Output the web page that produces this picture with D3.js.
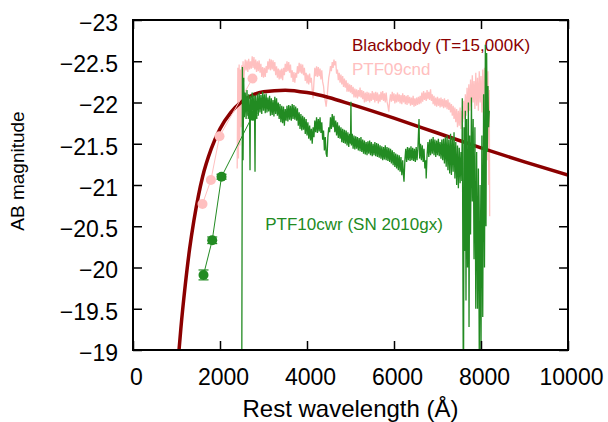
<!DOCTYPE html>
<html>
<head>
<meta charset="utf-8">
<script src="https://cdnjs.cloudflare.com/ajax/libs/d3/7.8.5/d3.min.js"></script>
<style>
  body { margin: 0; background: #fff; }
  text { font-family: "Liberation Sans", Arial, Helvetica, sans-serif; }
</style>
</head>
<body>
<div id="chart"></div>
<script>
// axis ticks
const xTicks = [0, 2000, 4000, 6000, 8000, 10000]
const yTicks = [-23, -22.5, -22, -21.5, -21, -20.5, -20, -19.5, -19]

// blackbody T=15,000K
const bbWave = [1000, 1050, 1100, 1200, 1300, 1400, 1500, 1600, 1800, 2000, 2250, 2500, 2750, 3000, 3500, 4000, 4500, 5000, 6000, 7000, 8000, 9000, 10000]
const bbMag  = [-18.60, -18.95, -19.26, -19.78, -20.22, -20.57, -20.86, -21.10, -21.44, -21.68, -21.88, -22.01, -22.09, -22.13, -22.15, -22.12, -22.06, -21.98, -21.81, -21.63, -21.45, -21.28, -21.12]

// UV photometry
const cndPhotWave = [1598, 1791, 1989, 2747]
const cndPhotMag  = [-20.77, -21.06, -21.59, -22.29]
const cwrPhotWave = [1621, 1821, 2035, 2750]
const cwrPhotMag  = [-19.91, -20.33, -21.10, -21.84]
const cwrPhotErr  = [0.06, 0.04, 0.03, 0.03]

// PTF09cnd spectrum [wavelength, mag]
const cndSpectrum = [
[2395,-21.20],[2410,-22.42],[2425,-21.32],[2440,-22.46],[2455,-21.48],[2470,-22.40],[2485,-21.70],[2500,-22.45],[2515,-22.00],[2530,-22.50],[2545,-22.25],
[2560,-22.38],[2580,-22.52],[2600,-22.39],[2620,-22.51],[2640,-22.37],[2660,-22.53],[2680,-22.40],[2700,-22.50],[2720,-22.41],[2740,-22.56],
[2760,-22.42],[2780,-22.55],[2800,-22.40],[2820,-22.52],[2840,-22.37],[2860,-22.50],[2880,-22.38],[2900,-22.51],[2920,-22.36],[2940,-22.47],
[2960,-22.31],[2980,-22.43],[3000,-22.30],[3020,-22.42],[3040,-22.31],[3060,-22.44],[3080,-22.36],[3100,-22.50],[3120,-22.40],[3140,-22.53],
[3160,-22.39],[3180,-22.52],[3200,-22.40],[3220,-22.51],[3240,-22.38],[3260,-22.49],[3280,-22.33],[3300,-22.44],[3320,-22.30],[3340,-22.41],
[3360,-22.28],[3380,-22.40],[3400,-22.29],[3420,-22.41],[3440,-22.27],[3460,-22.42],[3480,-22.33],[3500,-22.47],[3520,-22.37],[3540,-22.50],
[3560,-22.38],[3580,-22.49],[3600,-22.36],[3620,-22.46],[3640,-22.30],[3660,-22.39],[3680,-22.25],[3700,-22.37],[3720,-22.24],[3740,-22.36],
[3760,-22.30],[3780,-22.44],[3800,-22.35],[3820,-22.48],[3840,-22.36],[3860,-22.47],[3880,-22.35],[3900,-22.46],[3920,-22.33],[3940,-22.42],
[3960,-22.26],[3980,-22.36],[4000,-22.23],[4020,-22.34],[4040,-22.22],[4060,-22.35],[4080,-22.24],[4100,-22.30],[4120,-22.15],[4140,-22.05],
[4160,-22.25],[4180,-22.42],[4200,-22.32],[4220,-22.44],[4240,-22.31],[4260,-22.43],[4280,-22.32],[4300,-22.41],[4320,-22.28],[4340,-22.39],
[4360,-22.25],[4380,-22.20],[4400,-22.08],[4420,-22.02],[4440,-21.95],[4460,-22.05],[4480,-22.18],[4500,-22.30],[4520,-22.36],[4540,-22.44],
[4560,-22.38],[4580,-22.49],[4600,-22.42],[4620,-22.52],[4640,-22.45],[4660,-22.50],[4680,-22.35],[4700,-22.40],[4720,-22.27],[4740,-22.36],
[4760,-22.24],[4780,-22.34],[4800,-22.22],[4820,-22.32],[4840,-22.19],[4860,-22.29],[4880,-22.18],[4900,-22.27],[4920,-22.13],[4940,-22.24],
[4960,-22.13],[4980,-22.22],[5000,-22.12],[5020,-22.21],[5040,-22.10],[5060,-22.19],[5080,-22.06],[5100,-22.17],[5120,-22.06],[5140,-22.16],
[5160,-22.05],[5180,-22.15],[5200,-22.07],[5220,-22.18],[5240,-22.06],[5260,-22.15],[5280,-22.04],[5300,-22.14],[5320,-22.00],[5340,-22.12],
[5360,-22.01],[5380,-22.13],[5400,-22.02],[5420,-22.12],[5440,-22.00],[5460,-22.11],[5480,-22.02],[5500,-22.14],[5520,-22.03],[5540,-22.12],
[5560,-22.00],[5580,-22.13],[5600,-22.02],[5620,-22.12],[5640,-21.99],[5660,-22.10],[5680,-22.01],[5700,-22.13],[5720,-22.03],[5740,-22.14],
[5760,-22.02],[5780,-22.11],[5800,-22.00],[5820,-22.12],[5840,-22.01],[5860,-21.96],[5880,-21.89],[5900,-22.02],[5920,-22.10],[5940,-22.01],
[5960,-22.13],[5980,-22.02],[6000,-22.11],[6020,-21.99],[6040,-22.10],[6060,-22.00],[6080,-22.12],[6100,-22.01],[6120,-22.10],[6140,-21.99],
[6160,-22.09],[6180,-21.98],[6200,-22.11],[6220,-22.00],[6240,-22.09],[6260,-21.98],[6280,-22.08],[6300,-21.97],[6320,-22.09],[6340,-21.99],
[6360,-22.07],[6380,-21.96],[6400,-22.06],[6420,-21.97],[6440,-22.08],[6460,-21.95],[6480,-22.05],[6500,-21.96],[6520,-22.06],[6540,-21.97],
[6560,-22.07],[6580,-21.98],[6600,-22.08],[6620,-21.99],[6640,-22.12],[6660,-22.01],[6680,-22.14],[6700,-22.03],[6720,-22.12],[6740,-22.02],
[6760,-22.15],[6780,-22.04],[6800,-22.13],[6820,-22.03],[6840,-22.16],[6860,-22.02],[6880,-22.10],[6900,-21.98],[6920,-22.08],[6940,-21.96],
[6960,-22.06],[6980,-21.95],[7000,-22.07],[7020,-21.96],[7040,-22.05],[7060,-21.94],[7080,-22.06],[7100,-21.95],[7120,-22.04],[7140,-21.93],
[7160,-22.05],[7180,-21.94],[7200,-22.03],[7220,-21.92],[7240,-22.04],[7260,-21.91],[7280,-22.00],[7300,-21.88],[7320,-21.98],[7340,-21.84],
[7360,-21.96],[7380,-21.80],[7400,-21.94],[7420,-21.76],[7440,-21.92],[7460,-21.70],[7480,-21.90],[7500,-21.72],[7520,-21.94],[7540,-21.68],
[7560,-21.90],[7580,-21.76],[7600,-22.02],[7620,-21.80],[7640,-22.10],[7660,-21.84],[7680,-22.18],[7700,-21.88],[7720,-22.22],[7740,-21.90],
[7760,-22.28],[7780,-21.95],[7800,-22.33],[7820,-22.00],[7840,-22.26],[7860,-21.92],[7880,-22.36],[7900,-21.96],[7920,-22.30],[7940,-21.90],
[7960,-22.38],[7980,-22.00],[8000,-22.32],[8020,-21.88],[8040,-22.40],[8060,-21.80],[8080,-22.42],[8100,-21.60],[8120,-22.44],[8140,-21.30],
[8160,-22.38],[8180,-21.00],[8190,-22.15],[8200,-20.62]
]

// PTF10cwr spectrum [wavelength, mag]
const cwrSpectrum = [
[2500,-18.50],[2515,-22.43],[2530,-21.30],[2545,-22.30],[2560,-21.82],[2580,-22.12],[2600,-21.80],[2620,-22.15],[2640,-21.84],[2660,-22.10],
[2680,-21.80],[2690,-21.18],[2700,-22.08],[2720,-21.83],[2740,-22.12],[2760,-21.86],[2780,-22.09],[2795,-21.84],[2805,-21.16],[2815,-22.08],
[2840,-21.86],[2860,-22.10],[2880,-21.84],[2900,-22.12],[2920,-21.88],[2940,-22.09],[2960,-21.86],[2980,-22.13],[3000,-21.90],[3020,-22.10],
[3040,-21.87],[3060,-22.11],[3080,-21.88],[3100,-22.06],[3120,-21.89],[3140,-22.08],[3160,-21.84],[3180,-22.05],[3200,-21.85],[3220,-22.03],
[3240,-21.83],[3260,-22.07],[3280,-21.86],[3300,-22.05],[3320,-21.84],[3340,-22.00],[3360,-21.80],[3380,-21.98],[3400,-21.76],[3420,-21.96],
[3440,-21.75],[3460,-21.95],[3480,-21.72],[3500,-21.92],[3520,-21.78],[3540,-21.96],[3560,-21.77],[3580,-21.97],[3600,-21.79],[3620,-21.96],
[3640,-21.78],[3660,-21.98],[3680,-21.80],[3700,-21.97],[3720,-21.79],[3740,-21.95],[3760,-21.78],[3780,-21.93],[3800,-21.72],[3820,-21.88],
[3840,-21.68],[3860,-21.86],[3880,-21.66],[3900,-21.84],[3920,-21.67],[3940,-21.82],[3960,-21.62],[3980,-21.80],[4000,-21.60],[4020,-21.76],
[4040,-21.56],[4060,-21.72],[4080,-21.54],[4100,-21.68],[4120,-21.50],[4140,-21.70],[4160,-21.58],[4180,-21.78],[4200,-21.64],[4220,-21.82],
[4240,-21.63],[4260,-21.80],[4280,-21.65],[4300,-21.82],[4320,-21.63],[4340,-21.76],[4360,-21.55],[4380,-21.66],[4400,-21.42],[4420,-21.58],
[4440,-21.38],[4460,-21.34],[4480,-21.58],[4500,-21.70],[4520,-21.64],[4540,-21.82],[4560,-21.68],[4580,-21.86],[4600,-21.70],[4620,-21.84],
[4640,-21.64],[4660,-21.78],[4680,-21.60],[4700,-21.76],[4720,-21.57],[4740,-21.72],[4760,-21.56],[4780,-21.70],[4800,-21.52],[4820,-21.68],
[4840,-21.51],[4860,-21.67],[4880,-21.50],[4900,-21.66],[4920,-21.48],[4940,-21.64],[4960,-21.46],[4980,-21.62],[5000,-21.50],[5010,-22.01],
[5020,-21.48],[5040,-21.62],[5060,-21.44],[5080,-21.60],[5100,-21.43],[5120,-21.59],[5140,-21.44],[5160,-21.58],[5180,-21.42],[5200,-21.57],
[5220,-21.41],[5240,-21.58],[5260,-21.40],[5280,-21.55],[5300,-21.38],[5320,-21.54],[5340,-21.37],[5360,-21.52],[5380,-21.36],[5400,-21.53],
[5420,-21.38],[5440,-21.54],[5460,-21.36],[5480,-21.52],[5500,-21.35],[5520,-21.50],[5540,-21.36],[5560,-21.52],[5580,-21.35],[5600,-21.51],
[5620,-21.34],[5640,-21.50],[5660,-21.33],[5680,-21.48],[5700,-21.32],[5720,-21.47],[5740,-21.30],[5760,-21.46],[5780,-21.31],[5800,-21.48],
[5820,-21.30],[5840,-21.46],[5860,-21.29],[5880,-21.45],[5900,-21.28],[5920,-21.44],[5940,-21.26],[5960,-21.42],[5980,-21.24],[6000,-21.40],
[6020,-21.22],[6040,-21.38],[6060,-21.20],[6080,-21.37],[6100,-21.18],[6120,-21.36],[6140,-21.16],[6160,-21.34],[6180,-21.12],[6200,-21.30],
[6220,-21.10],[6230,-21.04],[6250,-21.30],[6270,-21.44],[6290,-21.28],[6310,-21.46],[6330,-21.30],[6350,-21.45],[6370,-21.29],[6390,-21.47],
[6410,-21.30],[6430,-21.45],[6450,-21.29],[6470,-21.44],[6490,-21.28],[6510,-21.46],[6530,-21.30],[6550,-21.45],[6575,-21.80],[6590,-21.32],
[6610,-21.50],[6630,-21.30],[6650,-21.48],[6670,-21.28],[6690,-21.44],[6710,-21.20],[6730,-21.30],[6740,-21.08],[6760,-21.36],[6780,-21.52],
[6800,-21.34],[6820,-21.55],[6840,-21.36],[6860,-21.56],[6880,-21.38],[6900,-21.58],[6920,-21.36],[6940,-21.55],[6960,-21.34],[6980,-21.54],
[7000,-21.36],[7020,-21.56],[7040,-21.35],[7060,-21.52],[7080,-21.32],[7100,-21.55],[7120,-21.30],[7140,-21.56],[7160,-21.26],[7180,-21.58],
[7200,-21.22],[7220,-21.60],[7240,-21.18],[7260,-21.55],[7280,-21.14],[7300,-21.62],[7320,-21.12],[7340,-21.58],[7360,-21.16],[7380,-21.64],
[7400,-21.08],[7420,-21.52],[7440,-21.00],[7460,-21.48],[7480,-20.96],[7500,-21.45],[7520,-21.02],[7540,-21.40],[7560,-21.05],[7570,-22.05],
[7590,-19.02],[7600,-18.90],[7610,-21.70],[7625,-20.20],[7640,-21.90],[7655,-19.60],[7670,-21.80],[7690,-20.00],[7710,-22.00],[7725,-19.28],
[7740,-21.60],[7760,-20.40],[7780,-22.06],[7800,-20.80],[7820,-21.80],[7840,-20.10],[7860,-21.70],[7880,-19.50],[7900,-21.40],[7920,-19.50],
[7940,-21.20],[7960,-18.90],[7980,-21.00],[8000,-18.90],[8020,-21.60],[8040,-19.40],[8060,-22.10],[8080,-20.00],[8100,-22.70],[8115,-20.50],
[8130,-22.60],[8145,-21.40],[8160,-22.20],[8175,-21.70],[8190,-21.90]
]

const W = 608, H = 422
const margin = {top: 20, right: 40, bottom: 72, left: 133}
const pw = W - margin.left - margin.right
const ph = H - margin.top - margin.bottom

const darkred = "#8b0000", pink = "#ffc0c0", green = "#228b22"

const svg = d3.select("#chart").append("svg")
    .attr("width", W)
    .attr("height", H)
    .style("background", "#fff")

const g = svg.append("g")
    .attr("transform", `translate(${margin.left},${margin.top})`)

const x = d3.scaleLinear().domain([0, 10000]).range([0, pw])
const y = d3.scaleLinear().domain([-23, -19]).range([0, ph])

g.append("clipPath").attr("id", "plotclip")
    .append("rect").attr("width", pw).attr("height", ph)

// labels first, spectra are drawn over them
g.append("text").attr("x", x(5035)).attr("y", y(-22.63))
    .attr("font-size", 17).attr("fill", darkred).text("Blackbody (T=15,000K)")
g.append("text").attr("x", x(5035)).attr("y", y(-22.33))
    .attr("font-size", 17).attr("fill", pink).text("PTF09cnd")
g.append("text").attr("x", x(3040)).attr("y", y(-20.45))
    .attr("font-size", 17).attr("fill", green).text("PTF10cwr (SN 2010gx)")

const plot = g.append("g").attr("clip-path", "url(#plotclip)")

const specLine = d3.line().x(d => x(d[0])).y(d => y(d[1]))

// PTF09cnd spectrum
plot.append("path").datum(cndSpectrum)
    .attr("d", specLine)
    .attr("fill", "none").attr("stroke", pink).attr("stroke-width", 1.3)

// blackbody
const bb = bbWave.map((w, i) => [w, bbMag[i]])
plot.append("path").datum(bb)
    .attr("d", d3.line().x(d => x(d[0])).y(d => y(d[1])).curve(d3.curveMonotoneX))
    .attr("fill", "none").attr("stroke", darkred).attr("stroke-width", 3.5)

// PTF09cnd photometry
const cndPhot = cndPhotWave.map((w, i) => [w, cndPhotMag[i]])
plot.append("path").datum(cndPhot)
    .attr("d", specLine)
    .attr("fill", "none").attr("stroke", pink).attr("stroke-width", 1)
plot.selectAll(".cndpt").data(cndPhot).enter().append("circle")
    .attr("cx", d => x(d[0])).attr("cy", d => y(d[1])).attr("r", 5)
    .attr("fill", pink)

// PTF10cwr spectrum
plot.append("path").datum(cwrSpectrum)
    .attr("d", specLine)
    .attr("fill", "none").attr("stroke", green).attr("stroke-width", 1.3)

// PTF10cwr photometry
const cwrPhot = cwrPhotWave.map((w, i) => [w, cwrPhotMag[i], cwrPhotErr[i]])
plot.append("path").datum(cwrPhot)
    .attr("d", specLine)
    .attr("fill", "none").attr("stroke", green).attr("stroke-width", 1)
const eb = plot.selectAll(".err").data(cwrPhot).enter().append("g")
eb.append("line")
    .attr("x1", d => x(d[0])).attr("x2", d => x(d[0]))
    .attr("y1", d => y(d[1] - d[2])).attr("y2", d => y(d[1] + d[2]))
    .attr("stroke", green).attr("stroke-width", 1)
eb.selectAll(".cap").data(d => [[d[0], d[1] - d[2]], [d[0], d[1] + d[2]]]).enter().append("line")
    .attr("x1", d => x(d[0]) - 5).attr("x2", d => x(d[0]) + 5)
    .attr("y1", d => y(d[1])).attr("y2", d => y(d[1]))
    .attr("stroke", green).attr("stroke-width", 1.2)
plot.selectAll(".cwrpt").data(cwrPhot).enter().append("circle")
    .attr("cx", d => x(d[0])).attr("cy", d => y(d[1])).attr("r", 5)
    .attr("fill", green)

// axes, ticks pointing inward on all four sides
const tick = 9
const xb = g.append("g").attr("transform", `translate(0,${ph})`)
    .call(d3.axisBottom(x).tickValues(xTicks).tickSize(-tick).tickPadding(19).tickFormat(d3.format("d")))
const yl = g.append("g")
    .call(d3.axisLeft(y).tickValues(yTicks).tickSize(-tick).tickPadding(15).tickFormat(d3.format("")))
g.append("g").call(d3.axisTop(x).tickValues(xTicks).tickSize(-tick).tickFormat(""))
g.append("g").attr("transform", `translate(${pw},0)`)
    .call(d3.axisRight(y).tickValues(yTicks).tickSize(-tick).tickFormat(""))

g.selectAll(".domain").remove()
g.selectAll(".tick line").attr("stroke", "#000").attr("stroke-width", 1.5)
g.selectAll(".tick text").attr("font-size", 23).attr("fill", "#000")
    .style("font-family", '"Liberation Sans", Arial, sans-serif')
xb.selectAll(".tick text").attr("dx", 3)
yl.selectAll(".tick text").attr("dy", "0.45em")

g.append("rect").attr("width", pw).attr("height", ph)
    .attr("fill", "none").attr("stroke", "#000").attr("stroke-width", 2)

// axis titles
svg.append("text").attr("x", margin.left + pw / 2).attr("y", 417)
    .attr("text-anchor", "middle").attr("font-size", 24).text("Rest wavelength (Å)")
svg.append("text").attr("transform", "translate(24,171) rotate(-90)")
    .attr("text-anchor", "middle").attr("font-size", 19).text("AB magnitude")
</script>
</body>
</html>
